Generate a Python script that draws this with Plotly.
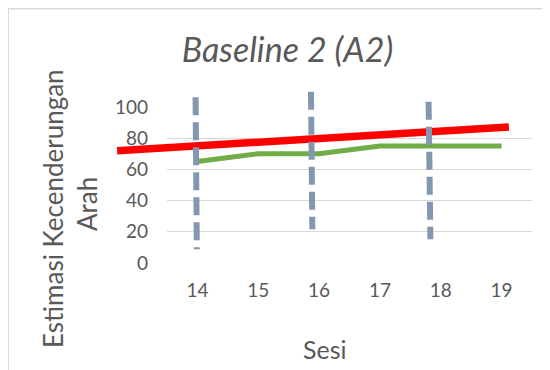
import plotly.graph_objects as go

# ---- data ----
sessions = [14, 15, 16, 17, 18, 19]
scores = [65, 70, 70, 75, 75, 75]
tick_labels = ["14", "15", "16", "17", "18", "19"]
y_ticks = [0, 20, 40, 60, 80, 100]

# trend line (estimasi kecenderungan arah) endpoints, in data units
trend_x = [12.68, 19.12]
trend_y = [72.0, 87.2]

# split-middle dashed lines: (x_top, x_bottom, y_top, y_bottom) in data units
split_x_top = [13.97, 15.867, 17.80]
split_x_bot = [13.99, 15.889, 17.83]
split_y_top = [106.2, 109.8, 103.4]
split_y_bot = [8.8, 21.6, 15.2]

title_text = "Baseline 2 (A2)"
ytitle_lines = ["Estimasi Kecenderungan", "Arah"]
xtitle_text = "Sesi"

# ---- layout constants ----
OFF = 8  # page body margin
W, H = 550 - OFF, 370 - OFF
ML, MR, MT, MB = 167 - OFF, 18, 107 - OFF, 107
X_RANGE = [13.5, 19.5]
Y_RANGE = [0, 100]
FONT = "Lato"
TXT = "#595959"
GRID = "#D9D9D9"


def to_px(x):
    return (x - X_RANGE[0]) / (X_RANGE[1] - X_RANGE[0])


def to_py(y):
    return (y - Y_RANGE[0]) / (Y_RANGE[1] - Y_RANGE[0])


plot_w = W - ML - MR
plot_h = H - MT - MB


def pix_x(px):
    return (px - OFF - ML) / plot_w


def pix_y(py):
    return (H - MB - (py - OFF)) / plot_h


fig = go.Figure()
fig.add_trace(go.Scatter(
    x=sessions, y=scores, mode="lines",
    line=dict(color="#70AD47", width=5),
    showlegend=False, hoverinfo="skip",
))

shapes = []
# outer chart frame
shapes.append(dict(type="rect", xref="paper", yref="paper",
                   x0=pix_x(8.2), x1=pix_x(600), y0=pix_y(420), y1=pix_y(8.7),
                   line=dict(color=GRID, width=1.5), layer="below"))
# trend line (not clipped to plot area)
shapes.append(dict(type="line", xref="paper", yref="paper",
                   x0=to_px(trend_x[0]), y0=to_py(trend_y[0]),
                   x1=to_px(trend_x[1]), y1=to_py(trend_y[1]),
                   line=dict(color="#FF0000", width=7.5), layer="above"))
# dashed split lines
for xt, xb, yt, yb in zip(split_x_top, split_x_bot, split_y_top, split_y_bot):
    shapes.append(dict(type="line", xref="paper", yref="paper",
                       x0=to_px(xt), y0=to_py(yt), x1=to_px(xb), y1=to_py(yb),
                       line=dict(color="#8497B0", width=6, dash="18px,7px"),
                       layer="above"))

ytitle_pos = [(53, 209), (87, 204)]
annotations = [
    dict(text=t, xref="paper", yref="paper",
         x=pix_x(px), y=pix_y(py), textangle=-90, showarrow=False,
         xanchor="center", yanchor="middle",
         font=dict(family=FONT, size=26, color=TXT))
    for t, (px, py) in zip(ytitle_lines, ytitle_pos)
]
annotations.append(
    dict(text=xtitle_text, xref="paper", yref="paper",
         x=pix_x(325), y=pix_y(349), showarrow=False,
         xanchor="center", yanchor="middle",
         font=dict(family=FONT, size=25, color=TXT)))

fig.update_layout(
    width=W, height=H,
    margin=dict(l=ML, r=MR, t=MT, b=MB, pad=0),
    paper_bgcolor="white", plot_bgcolor="rgba(0,0,0,0)",
    title=dict(text=f"<i>{title_text}</i>", xref="container", yref="container",
               x=(287.5 - OFF) / W, y=1 - (50 - OFF) / H,
               xanchor="center", yanchor="middle",
               font=dict(family=FONT, size=34, color=TXT)),
    shapes=shapes,
    annotations=annotations,
    showlegend=False,
)
fig.update_xaxes(
    range=X_RANGE, tickvals=sessions, ticktext=tick_labels,
    showgrid=False, zeroline=False, showline=False, ticks="",
    ticklabelstandoff=14,
    tickfont=dict(family=FONT, size=19, color=TXT),
)
fig.update_yaxes(
    range=Y_RANGE, tickvals=y_ticks,
    showgrid=True, gridcolor=GRID, gridwidth=1.2, zeroline=False, showline=False,
    ticks="", ticklabelstandoff=18,
    tickfont=dict(family=FONT, size=19, color=TXT),
)

fig.write_html("out.html")
